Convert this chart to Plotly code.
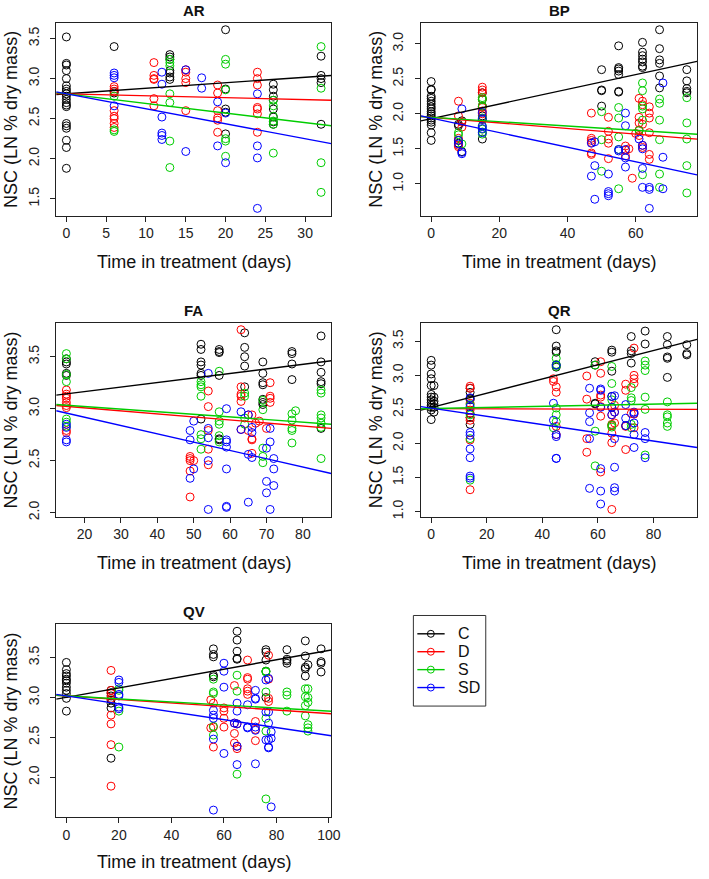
import plotly.graph_objects as go

W, H = 709, 879
FONT = "Liberation Sans, Arial, Helvetica, sans-serif"

GROUPS = ["C", "D", "S", "SD"]
COLORS = {"C": "#000000", "D": "#FF0000", "S": "#00CD00", "SD": "#0000FF"}

# NSC values per group, keyed by day in treatment
AR = {
    "C": {0: [3.52, 3.19, 3.17, 3.10, 3.00, 2.91, 2.87, 2.84, 2.81, 2.78, 2.74, 2.70, 2.67, 2.65, 2.44, 2.41, 2.38, 2.23, 2.14, 1.88],
          6: [3.40, 2.84, 2.82],
          13: [3.30, 3.27, 3.24, 3.10, 3.07, 3.02, 2.99],
          20: [3.61, 2.87, 2.62, 2.58, 2.31],
          26: [2.93, 2.86, 2.78, 2.73, 2.62, 2.52, 2.46, 2.43],
          32: [3.28, 3.04, 3.00, 2.95, 2.43]},
    "D": {6: [2.90, 2.87, 2.84, 2.60, 2.53, 2.50, 2.44, 2.39],
          11: [3.20, 3.04, 3.00, 2.99, 2.75, 2.66],
          15: [3.11, 3.08, 3.00, 2.95, 2.60],
          19: [2.92, 2.82, 2.60, 2.51, 2.48, 2.33],
          24: [3.08, 3.00, 2.92, 2.64, 2.62, 2.56, 2.33]},
    "S": {6: [2.78, 2.36, 2.34],
          13: [3.24, 3.20, 3.16, 2.81, 2.70, 2.22, 1.89],
          20: [3.24, 3.18, 2.86, 2.25, 2.22, 2.03],
          26: [2.73, 2.66, 2.53, 2.47, 2.43, 2.07],
          32: [3.40, 2.88, 1.95, 1.58]},
    "SD": {6: [3.07, 3.04, 3.01, 2.66],
           12: [3.08, 2.93, 2.52, 2.32, 2.29, 2.24],
           15: [3.11, 2.09],
           17: [3.01, 2.88],
           19: [2.71, 2.16],
           20: [2.57, 1.95],
           24: [2.81, 2.16, 2.01, 1.38]},
}

BP = {
    "C": {0: [2.46, 2.35, 2.34, 2.25, 2.22, 2.18, 2.14, 2.10, 2.07, 2.03, 2.00, 1.97, 1.94, 1.91, 1.88, 1.84, 1.73, 1.62],
          8: [1.85, 1.83, 1.62, 1.58],
          9: [1.90, 1.46],
          15: [2.30, 2.21, 2.11, 1.97, 1.92, 1.64],
          50: [2.63, 2.34, 2.33, 2.11],
          55: [2.97, 2.66, 2.64, 2.61, 2.56, 2.32, 2.31],
          62: [3.02, 2.88, 2.83, 2.78, 2.74, 2.68, 2.66],
          67: [3.20, 2.93, 2.77, 2.72, 2.54, 2.37],
          75: [2.63, 2.47, 2.36, 2.32, 2.30]},
    "D": {8: [2.18, 1.97, 1.65, 1.55, 1.53],
          9: [1.88, 1.81],
          15: [2.38, 2.34, 2.30, 2.21, 2.11, 2.09, 2.04, 2.00],
          47: [2.01, 1.65, 1.62, 1.59, 1.44, 1.42],
          52: [1.95, 1.75, 1.64, 1.58, 1.36],
          57: [1.54, 1.48, 1.40],
          58: [1.50],
          59: [1.08],
          60: [1.72],
          61: [2.22, 1.95, 1.87, 1.77, 1.69],
          62: [2.18, 2.13, 1.85, 1.55, 1.52],
          64: [2.10, 2.01, 1.94, 1.73, 1.42, 1.35]},
    "S": {8: [1.73, 1.70],
          9: [1.57],
          15: [2.23, 2.20, 2.11, 1.94, 1.83, 1.78, 1.74, 1.71],
          50: [2.03, 1.63, 1.18],
          55: [2.09, 1.94, 1.67, 1.49, 0.93],
          61: [1.76],
          62: [2.44, 2.33, 2.11, 2.07, 1.91, 1.13],
          67: [2.21, 2.15, 1.91, 1.63, 1.14, 0.95],
          75: [2.23, 1.87, 1.64, 1.26, 0.87]},
    "SD": {8: [1.62, 1.57],
           9: [2.07, 1.45, 1.43],
           15: [2.02, 1.93, 1.82, 1.79, 1.73],
           47: [1.58, 1.11],
           48: [1.60, 1.26, 0.78],
           52: [1.14, 0.89, 0.86, 0.83],
           55: [1.49, 1.47],
           57: [2.01, 1.83, 1.49, 1.37, 1.24],
           61: [1.64],
           62: [1.55, 1.50, 1.22, 0.95],
           64: [0.95, 0.92, 0.65],
           68: [2.44, 1.38, 0.93]},
}

FA = {
    "C": {15: [3.48, 3.45, 3.43, 3.34, 3.32],
          52: [3.62, 3.57, 3.45, 3.42, 3.34, 3.32, 2.90],
          57: [3.57, 3.55, 3.54, 3.32, 2.71, 2.70],
          64: [3.73, 3.59, 3.50, 3.41, 3.21],
          69: [3.45, 3.34, 3.25, 3.23, 3.09, 3.06, 3.04],
          77: [3.55, 3.53, 3.43, 3.28],
          85: [3.70, 3.45, 3.35, 3.26, 3.24, 2.81]},
    "D": {15: [3.18, 3.14, 3.12, 3.10, 3.06, 3.03, 3.01, 2.79, 2.77],
          49: [2.54, 2.52, 2.50, 2.40, 2.15],
          50: [2.50],
          54: [3.17, 3.02, 2.79, 2.61, 2.46],
          63: [3.76, 3.21, 3.14, 3.12, 3.07, 2.80],
          65: [2.94, 2.79],
          66: [2.94, 2.71, 2.70, 2.57],
          67: [2.86],
          68: [2.88],
          70: [2.81],
          71: [3.25, 3.12, 3.10, 3.06]},
    "S": {15: [3.53, 3.48, 3.33, 3.26, 2.90, 2.87, 2.83],
          52: [3.26, 3.23, 3.21, 3.12, 2.75, 2.71, 2.61],
          57: [3.36, 2.97, 2.88, 2.85, 2.74, 2.68],
          64: [3.15, 3.12, 2.91, 2.85],
          69: [3.08, 2.99, 2.62, 2.54, 2.48],
          77: [2.95, 2.89, 2.81, 2.79, 2.67],
          78: [2.98],
          85: [3.18, 3.15, 2.94, 2.91, 2.86, 2.82, 2.52]},
    "SD": {15: [2.85, 2.82, 2.70, 2.68],
           49: [2.79, 2.70, 2.33],
           50: [2.88, 2.42],
           54: [3.34, 2.81, 2.72, 2.50, 2.03],
           59: [3.00, 2.70, 2.68, 2.63, 2.42, 2.06, 2.05],
           63: [2.97, 2.80],
           65: [2.94, 2.56, 2.10],
           66: [2.82, 2.77, 2.53],
           70: [2.62, 2.30, 2.19],
           71: [2.81, 2.68, 2.03],
           72: [2.52, 2.42, 2.26]},
}

QR = {
    "C": {0: [3.22, 3.15, 3.02, 2.95, 2.85, 2.72, 2.68, 2.64, 2.60, 2.56, 2.53, 2.49, 2.35],
          1: [2.85, 2.68, 2.62, 2.58, 2.53, 2.46],
          14: [2.81, 2.75, 2.66, 2.64, 2.44, 2.38, 2.28],
          45: [3.67, 3.43, 3.36, 3.34, 3.15, 3.12],
          59: [3.20, 3.15, 2.59, 2.58],
          65: [3.37, 3.34, 3.06, 2.69, 2.53],
          70: [2.26],
          72: [3.57, 3.36, 3.32, 3.18],
          77: [3.65, 3.46],
          85: [3.57, 3.45, 3.27, 3.25, 2.97],
          92: [3.45, 3.32, 3.30]},
    "D": {14: [2.84, 2.81, 2.59, 2.49, 2.38, 2.34, 2.05, 1.32],
          44: [2.95, 2.91],
          45: [2.83, 2.75, 2.25, 2.13],
          56: [2.99, 2.65, 2.07, 1.87],
          61: [3.20, 3.03, 2.71, 2.68, 2.54, 2.40, 1.58],
          65: [2.42, 2.28, 2.26, 2.15, 2.01, 1.03],
          66: [2.56, 2.46, 2.30],
          70: [2.87, 2.78, 2.25, 1.91],
          72: [2.44],
          73: [3.40, 3.00, 2.95, 2.88, 2.43, 2.23]},
    "S": {14: [2.57, 2.42, 2.07, 1.46],
          44: [2.23],
          45: [3.25, 3.16, 3.13, 2.52, 2.42, 2.32],
          59: [3.15, 2.18, 1.67],
          65: [3.13, 2.88, 2.64, 2.27, 2.24],
          72: [2.82, 2.67, 2.63, 2.28, 2.23],
          77: [3.21, 3.15, 3.07, 2.68, 2.50, 1.83],
          85: [2.61, 2.42, 2.39, 2.30, 2.25]},
    "SD": {14: [2.67, 2.54, 2.16, 2.12, 1.92, 1.79, 1.52, 1.49],
           44: [2.59, 2.34],
           45: [3.15, 2.13, 2.10, 1.78, 1.78],
           57: [2.81, 2.45, 2.32, 2.07, 1.34],
           61: [2.80, 2.78, 2.53, 1.63, 1.30, 1.11],
           65: [2.69, 2.53, 2.42],
           66: [2.70, 2.46, 2.07, 1.65, 1.35, 1.30],
           70: [2.57, 2.37, 2.26],
           73: [2.46, 2.44, 2.30, 2.13, 1.94],
           77: [2.16, 2.07, 1.79]},
}

QV = {
    "C": {0: [3.44, 3.35, 3.30, 3.27, 3.23, 3.21, 3.18, 3.13, 3.09, 3.05, 2.99, 2.83],
          17: [3.09, 3.06, 3.02, 2.97, 2.93, 2.87, 2.24],
          56: [3.61, 3.54, 3.51, 3.28, 3.26],
          65: [3.83, 3.72, 3.58, 3.49, 3.48],
          76: [3.60, 3.57, 3.47, 3.33, 3.00],
          84: [3.60, 3.48, 3.46, 3.43],
          91: [3.71, 3.52, 3.38, 3.36, 3.27],
          92: [3.41],
          97: [3.61, 3.45, 3.43, 3.32]},
    "D": {17: [3.34, 3.09, 3.05, 2.99, 2.78, 2.67, 2.41, 1.89],
          55: [2.97, 2.62],
          56: [2.93, 2.63, 2.38],
          60: [2.87, 2.83, 2.74, 2.63],
          64: [3.15, 2.68, 2.55, 2.43],
          65: [2.67, 2.39, 2.36],
          69: [3.47, 3.25, 3.23, 3.11, 3.08, 3.04],
          72: [2.70, 2.60, 2.46],
          77: [3.53, 3.23, 2.99, 2.95]},
    "S": {20: [3.11, 3.09, 2.83, 2.38],
          56: [3.23, 3.07, 3.05, 2.64, 2.53],
          65: [3.28, 3.08, 2.04],
          76: [3.33, 3.32, 3.07, 2.74, 2.58, 1.73],
          84: [3.07, 3.03, 2.83],
          91: [3.11, 3.01, 2.90, 2.77],
          92: [3.11, 3.00, 2.94, 2.66, 2.62, 2.58]},
    "SD": {20: [3.22, 3.19, 3.04, 3.02, 2.88, 2.86],
           56: [2.84, 2.78, 2.74, 2.48, 1.59],
           60: [3.43, 3.33, 3.13, 2.30],
           64: [2.68],
           65: [2.93, 2.83, 2.67, 2.39, 2.16],
           69: [2.91, 2.63, 2.62],
           72: [3.09, 2.99, 2.98, 2.63, 2.59, 2.17],
           76: [3.22, 2.82, 2.47],
           77: [3.24, 2.82, 2.68, 2.47, 2.38, 2.37],
           78: [2.57, 2.49, 1.63]},
}

# fitted lines: (intercept, slope)
AR_FIT = {"C": (2.81, 0.0069), "D": (2.81, -0.0024), "S": (2.81, -0.0120), "SD": (2.81, -0.0187)}
BP_FIT = {"C": (1.93, 0.0105), "D": (1.95, -0.0040), "S": (1.95, -0.0031), "SD": (1.94, -0.0104)}
FA_FIT = {"C": (3.077, 0.00437), "D": (3.066, -0.00291), "S": (3.071, -0.00251), "SD": (3.078, -0.0080)}
QR_FIT = {"C": (2.528, 0.01046), "D": (2.51, -0.0001), "S": (2.513, 0.0008), "SD": (2.518, -0.00604)}
QV_FIT = {"C": (3.003, 0.00587), "D": (3.021, -0.00221), "S": (3.022, -0.00192), "SD": (3.02, -0.00495)}

PANELS = [
    ("AR", AR, AR_FIT, 5),
    ("BP", BP, BP_FIT, 20),
    ("FA", FA, FA_FIT, 10),
    ("QR", QR, QR_FIT, 20),
    ("QV", QV, QV_FIT, 20),
]

# panel boxes in pixels
COL_X = [(57, 336), (427, 707)]
ROW_Y = [(22.7, 216.5), (324, 519), (627, 821)]
XTITLE_GAP = [46.5, 46.5, 45]


def px_x(v):
    return v / W


def px_y(v):
    return 1 - v / H


def r_range(vals):
    # R style axis: data range padded by 4% each side
    lo, hi = min(vals), max(vals)
    pad = (hi - lo) * 0.04
    return [lo - pad, hi + pad]


fig = go.Figure()
annotations = []
shapes = []

for idx, (name, data, fit, xdtick) in enumerate(PANELS):
    n = idx + 1
    row, col = divmod(idx, 2)
    x0, x1 = COL_X[col]
    yt, yb = ROW_Y[row]
    xs_all, ys_all = [], []
    for g in GROUPS:
        for day, vals in data[g].items():
            xs_all += [day] * len(vals)
            ys_all += vals
    xr = r_range(xs_all)
    yr = r_range(ys_all)
    xa = "x" if n == 1 else f"x{n}"
    ya = "y" if n == 1 else f"y{n}"

    for g in GROUPS:
        xs, ys = [], []
        for day, vals in data[g].items():
            xs += [day] * len(vals)
            ys += vals
        fig.add_trace(go.Scatter(
            x=xs, y=ys, mode="markers", xaxis=xa, yaxis=ya, showlegend=False,
            marker=dict(symbol="circle-open", size=8, color=COLORS[g], line=dict(width=1)),
        ))
    for g in GROUPS:
        a, b = fit[g]
        fig.add_trace(go.Scatter(
            x=xr, y=[a + b * xr[0], a + b * xr[1]], mode="lines",
            xaxis=xa, yaxis=ya, showlegend=False,
            line=dict(color=COLORS[g], width=1.4),
        ))

    axis_common = dict(
        showline=True, mirror=True, linecolor="#222", linewidth=1,
        ticks="outside", ticklen=5, tickcolor="#222", showgrid=False, zeroline=False,
        tickfont=dict(size=14, color="#222", family=FONT),
    )
    fig.layout[f"xaxis{'' if n == 1 else n}"] = dict(
        axis_common, domain=[px_x(x0), px_x(x1)], range=xr, dtick=xdtick,
        anchor=ya, ticklabelstandoff=0,
    )
    fig.layout[f"yaxis{'' if n == 1 else n}"] = dict(
        axis_common, domain=[px_y(yb), px_y(yt)], range=yr, dtick=0.5,
        tickformat=".1f", tickangle=-90, anchor=xa, ticklabelstandoff=6,
    )

    cx = (x0 + x1) / 2
    cy = (yt + yb) / 2
    lbl = dict(xref="paper", yref="paper", showarrow=False, xanchor="center", yanchor="middle")
    annotations.append(dict(
        lbl, text=f"<b>{name}</b>", x=px_x(cx), y=px_y(yt - 12.5),
        font=dict(size=15, color="#111", family=FONT),
    ))
    annotations.append(dict(
        lbl, text="Time in treatment (days)", x=px_x(cx), y=px_y(yb + XTITLE_GAP[row]),
        font=dict(size=18, color="#111", family=FONT),
    ))
    annotations.append(dict(
        lbl, text="NSC (LN % dry mass)", x=px_x(x0 - 46), y=px_y(cy), textangle=-90,
        font=dict(size=18, color="#111", family=FONT),
    ))

# legend box drawn like R's legend()
LEG_BOX = (419.3, 618.3, 492.7, 709.3)
LEG_ROW0, LEG_STEP = 636.7, 18.0
shapes.append(dict(type="rect", xref="paper", yref="paper",
                   x0=px_x(LEG_BOX[0]), x1=px_x(LEG_BOX[2]),
                   y0=px_y(LEG_BOX[3]), y1=px_y(LEG_BOX[1]),
                   line=dict(color="#333", width=1), fillcolor="white"))
for i, g in enumerate(GROUPS):
    ry = LEG_ROW0 + i * LEG_STEP
    shapes.append(dict(type="line", xref="paper", yref="paper",
                       x0=px_x(423.3), x1=px_x(451), y0=px_y(ry), y1=px_y(ry),
                       line=dict(color=COLORS[g], width=1.4)))
    shapes.append(dict(type="circle", xref="paper", yref="paper",
                       x0=px_x(437 - 3.5), x1=px_x(437 + 3.5),
                       y0=px_y(ry + 3.5), y1=px_y(ry - 3.5),
                       line=dict(color=COLORS[g], width=1), fillcolor="rgba(0,0,0,0)"))
    annotations.append(dict(
        text=g, x=px_x(463), y=px_y(ry), xref="paper", yref="paper", showarrow=False,
        xanchor="left", yanchor="middle", font=dict(size=16, color="#111", family=FONT),
    ))

fig.update_layout(
    width=W, height=H,
    margin=dict(l=0, r=0, t=0, b=0),
    paper_bgcolor="white", plot_bgcolor="white",
    font=dict(family=FONT, color="#111"),
    annotations=annotations,
    shapes=shapes,
    showlegend=False,
)

# drop the browser's default 8px body margin so the figure fills the page
fig.write_html("out.html", config={"displayModeBar": False},
               post_script="document.body.style.margin='0';")
